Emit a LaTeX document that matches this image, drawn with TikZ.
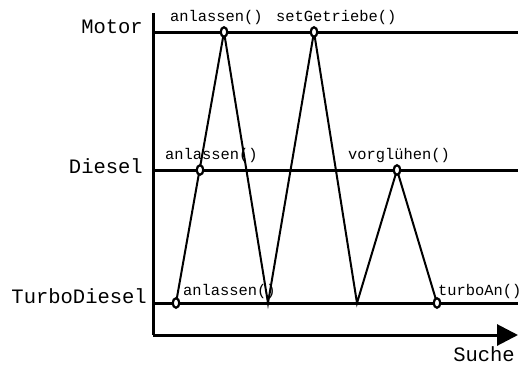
\documentclass[tikz,border=0pt]{standalone}
\usepackage{fontspec}
\setmonofont{Liberation Mono}
\usetikzlibrary{shapes.geometric,arrows.meta}
\begin{document}
\begin{tikzpicture}[x=1pt,y=-1pt,
  big/.style={font=\ttfamily\fontsize{20.5}{24}\selectfont, inner sep=0pt},
  small/.style={font=\ttfamily\fontsize{15.4}{18}\selectfont, inner sep=0pt},
  axis/.style={line width=3pt},
  lane/.style={line width=3pt},
  trace/.style={line width=2pt},
  marker/.style={ellipse, draw, line width=2.2pt, fill=white, minimum width=6.5pt, minimum height=9.5pt, inner sep=0pt}]
\useasboundingbox (0,0) rectangle (520,365);
% axes
\coordinate (atop) at (153,13);
\coordinate (aorig) at (153,335);
\coordinate (aend) at (518,335);
\draw[axis] (atop) -- (aorig);
\draw[axis, -{Triangle[length=21pt,width=21pt]}] (aorig) -- (aend);
% lanes
\coordinate (m0) at (153,32); \coordinate (m1) at (518,32);
\coordinate (d0) at (153,170); \coordinate (d1) at (518,170);
\coordinate (t0) at (153,303); \coordinate (t1) at (518,303);
\draw[lane] (m0) -- (m1);
\draw[lane] (d0) -- (d1);
\draw[lane] (t0) -- (t1);
% points
\coordinate (p1) at (176,303);
\coordinate (p2) at (200,170);
\coordinate (p3) at (224,32);
\coordinate (p4) at (268,303);
\coordinate (p5) at (314,32);
\coordinate (p6) at (357,303);
\coordinate (p7) at (397,170);
\coordinate (p8) at (437,303);
\draw[trace, line join=miter] (p1) -- (p3) -- (p4) -- (p5) -- (p6) -- (p7) -- (p8);
% markers
\node[marker] (mk1) at (p1) {};
\node[marker] (mk2) at (p2) {};
\node[marker] (mk3) at (p3) {};
\node[marker] (mk5) at (p5) {};
\node[marker] (mk7) at (p7) {};
\node[marker] (mk8) at (p8) {};
% lane labels
\node[big, anchor=east] (lm) at (143,27) {Motor};
\node[big, anchor=east] (ld) at (143,166) {Diesel};
\node[big, anchor=east] (lt) at (147,296) {TurboDiesel};
\node[big, anchor=base east] (ls) at (515,361) {Suche};
% call labels
\node[small, anchor=west] (c1) at (170,18) {anlassen()};
\node[small, anchor=west] (c2) at (276,18) {setGetriebe()};
\node[small, anchor=west] (c3) at (165,156) {anlassen()};
\node[small, anchor=west] (c4) at (348,156) {vorglühen()};
\node[small, anchor=west] (c5) at (183,292) {anlassen()};
\node[small, anchor=west] (c6) at (438,292) {turboAn()};
\end{tikzpicture}
\end{document}
